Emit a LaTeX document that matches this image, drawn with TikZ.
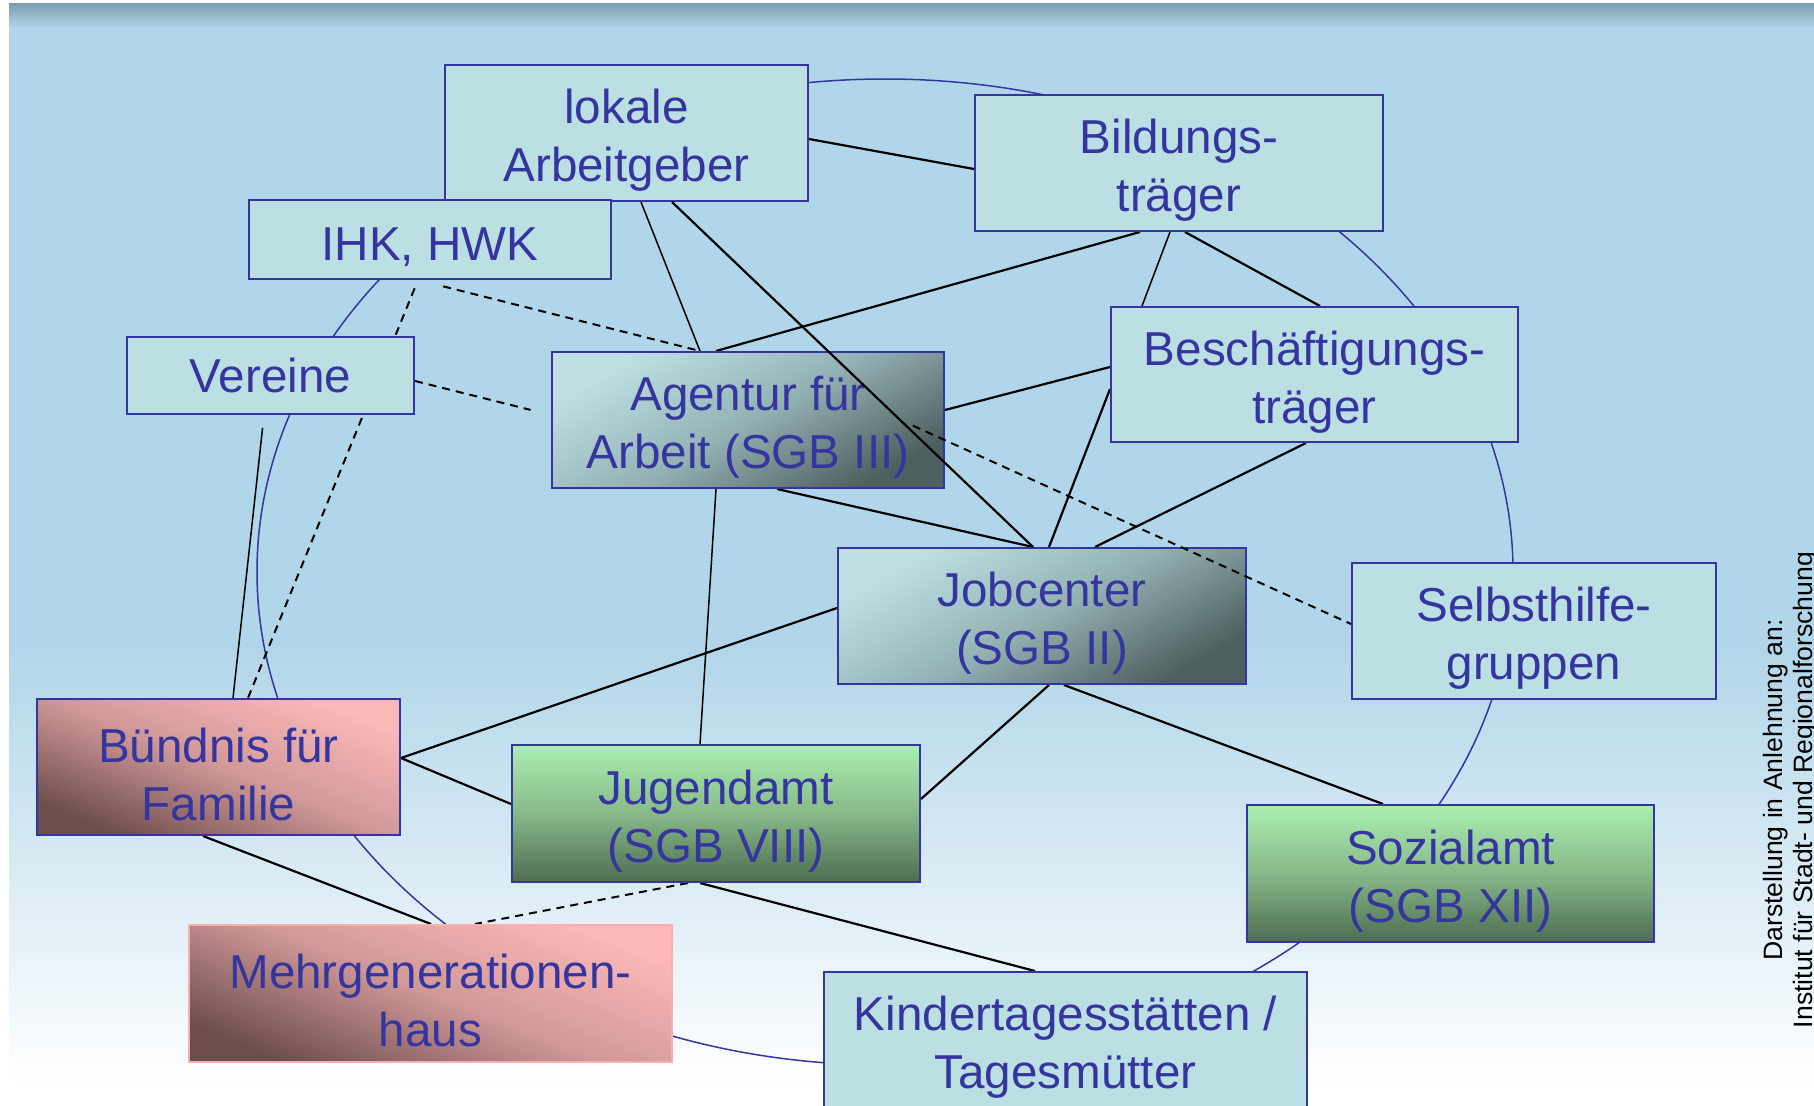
\documentclass[tikz,border=0pt]{standalone}
\usepackage{fontspec}
\setmainfont{Liberation Sans}
\pgfdeclarelayer{bg}
\pgfdeclarelayer{edges}
\pgfsetlayers{bg,edges,main}
\definecolor{bgblue}{RGB}{178,214,233}
\definecolor{topgray}{RGB}{125,158,176}
\definecolor{ink}{RGB}{53,53,160}
\definecolor{boxfill}{RGB}{188,223,227}
\definecolor{slatelight}{RGB}{190,224,228}
\definecolor{slatemid}{RGB}{148,178,180}
\definecolor{slatedark}{RGB}{78,95,95}
\definecolor{pinklight}{RGB}{253,184,184}
\definecolor{pinkmid}{RGB}{208,152,152}
\definecolor{pinkdark}{RGB}{110,77,77}
\definecolor{pinkborder}{RGB}{247,176,176}
\definecolor{greenlight}{RGB}{170,238,176}
\definecolor{greenmid}{RGB}{135,185,137}
\definecolor{greendark}{RGB}{78,108,80}
\newcommand\boxtopstrut{\rule{0pt}{49pt}}
\begin{document}
\begin{tikzpicture}[x=1pt,y=-1pt,
  box/.style={draw=ink, line width=2pt, text=ink, align=center, inner sep=0pt,
    font=\fontsize{47.6pt}{58pt}\selectfont},
  sz/.style 2 args={minimum width=#1pt, minimum height=#2pt},
  lightbox/.style={box, fill=boxfill},
  slatebox/.style={box, top color=slatelight, bottom color=slatedark, middle color=slatemid, shading angle=30},
  pinkbox/.style={box, top color=pinklight, bottom color=pinkdark, middle color=pinkmid, shading angle=-22},
  greenbox/.style={box, top color=greenlight, bottom color=greendark, middle color=greenmid},
  conn/.style={draw=black, line width=2.2pt},
  thinconn/.style={draw=black, line width=1.5pt},
  dashconn/.style={draw=black, line width=2pt, dash pattern=on 8pt off 6pt},
  ring/.style={draw=ink, line width=1.5pt},
  credit/.style={text=black, align=center, inner sep=0pt, font=\fontsize{26.6pt}{30pt}\selectfont}]

\useasboundingbox (0,0) rectangle (1814,1105);

% nodes
\node[lightbox, sz={363}{136}] (lok) at (626.5,133) {\boxtopstrut lokale\\Arbeitgeber};
\node[lightbox, sz={408}{136}] (bild) at (1179,163) {\boxtopstrut Bildungs-\\träger};
\node[lightbox, sz={362}{79}] (ihk) at (430,239.5) {\boxtopstrut IHK, HWK};
\node[lightbox, sz={287}{77}] (ver) at (270.5,375.5) {Vereine};
\node[slatebox, sz={392}{136}] (ag) at (748,420) {\boxtopstrut Agentur für\\Arbeit (SGB III)};
\node[lightbox, sz={407}{135}] (besch) at (1314.5,374.5) {\boxtopstrut Beschäftigungs-\\träger};
\node[slatebox, sz={408}{136}] (job) at (1042,616) {\boxtopstrut Jobcenter\\(SGB II)};
\node[lightbox, sz={364}{136}] (selb) at (1534,631) {\boxtopstrut Selbsthilfe-\\gruppen};
\node[pinkbox, sz={363}{136}] (bund) at (218.5,767) {\boxtopstrut Bündnis für\\Familie};
\node[greenbox, sz={408}{137}] (jug) at (716,813.5) {\boxtopstrut Jugendamt\\(SGB VIII)};
\node[greenbox, sz={407}{137}] (soz) at (1450.5,873.5) {\boxtopstrut Sozialamt\\(SGB XII)};
\node[pinkbox, draw=pinkborder, sz={483}{137}] (mehr) at (430.5,993.5) {\boxtopstrut Mehrgenerationen-\\haus};
\node[lightbox, sz={483}{136}] (kita) at (1065.5,1040) {\boxtopstrut Kindertagesstätten /\\Tagesmütter};

\node[credit, rotate=90] (src) at (1791,790) {Darstellung in Anlehnung an:\\Institut für Stadt- und Regionalforschung};

% background
\begin{pgfonlayer}{bg}
  \fill[white] (0,0) rectangle (1814,1105);
  \fill[bgblue] (9,27) rectangle (1814,650);
  \shade[top color=topgray, bottom color=bgblue] (9,4) rectangle (1814,27.5);
  \shade[top color=bgblue, bottom color=white] (9,649.5) rectangle (1814,1085);
  \draw[ring] (885,572) ellipse [x radius=628pt, y radius=493pt];
\end{pgfonlayer}

% connectors below the boxes
\begin{pgfonlayer}{edges}
  \draw[conn] ([yshift=-75pt]lok.north east) -- ([yshift=-75pt]bild.north west);
  \draw[thinconn] ([xshift=197pt]lok.south west) -- ([xshift=149pt]ag.north west);
  \draw[conn] ([xshift=166pt]bild.south west) -- ([xshift=165pt]ag.north west);
  \draw[thinconn] ([xshift=196pt]bild.south west) -- ([xshift=32pt]besch.north west);
  \draw[conn] ([xshift=211pt]bild.south west) -- ([xshift=210pt]besch.north west);
  \draw[conn] ([yshift=-59pt]ag.north east) -- ([yshift=-61pt]besch.north west);
  \draw[conn] ([xshift=226pt]ag.south west) -- ([xshift=196pt]job.north west);
  \draw[conn] ([yshift=-83pt]besch.north west) -- ([xshift=212pt]job.north west);
  \draw[conn] ([xshift=196pt]besch.south west) -- ([xshift=258pt]job.north west);
  \draw[thinconn] ([xshift=165pt]ag.south west) -- ([xshift=189pt]jug.north west);
  \draw[conn] ([yshift=-61pt]job.north west) -- ([yshift=-60pt]bund.north east);
  \draw[conn] ([yshift=-60pt]bund.north east) -- ([yshift=-60pt]jug.north west);
  \draw[conn] ([xshift=212pt]job.south west) -- ([yshift=-55pt]jug.north east);
  \draw[conn] ([xshift=227pt]job.south west) -- ([xshift=137pt]soz.north west);
  \draw[conn] ([xshift=167pt]bund.south west) -- ([xshift=243pt]mehr.north west);
  \draw[conn] ([xshift=189pt]jug.south west) -- ([xshift=212pt]kita.north west);
  \draw[thinconn, shorten <=13pt] ([xshift=138pt]ver.south west) -- ([xshift=197pt]bund.north west);
  \draw[dashconn, shorten <=9pt] ([xshift=170pt]ihk.south west) -- ([xshift=212pt]bund.north west);
  \draw[dashconn, shorten <=26pt] ([xshift=170pt]ihk.south west) -- ([xshift=149pt]ag.north west);
  \draw[dashconn, shorten >=21pt] ([yshift=-45pt]ver.north east) -- ([yshift=-64pt]ag.north west);
  \draw[dashconn] ([xshift=177pt]jug.south west) -- ([xshift=287pt]mehr.north west);
\end{pgfonlayer}

% connectors drawn over the boxes
\draw[conn] ([xshift=228pt]lok.south west) -- ([xshift=196pt]job.north west);
\draw[dashconn, shorten <=181pt] (ag.north) -- ([yshift=-62pt]selb.north west);
\end{tikzpicture}
\end{document}
